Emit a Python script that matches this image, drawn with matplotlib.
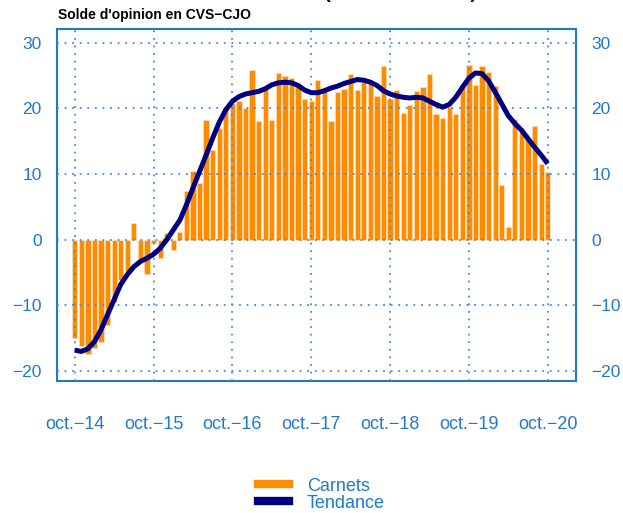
import numpy as np
import matplotlib
matplotlib.use('Agg')
from matplotlib import pyplot as plt
from matplotlib.lines import Line2D

# monthly data, oct. 2014 -> oct. 2020
carnets = [-15.0, -16.2, -17.4, -16.5, -15.5, -13.0, -9.5, -6.1, -4.8, 2.6, -2.9, -5.2,
           -0.5, -2.8, 1.0, -1.6, 1.2, 7.4, 10.5, 8.7, 18.2, 13.6, 17.0, 20.1,
           20.8, 21.1, 20.1, 25.8, 18.1, 23.3, 18.2, 25.4, 25.0, 24.7, 23.6, 21.4,
           21.2, 24.4, 23.0, 18.1, 22.5, 23.0, 25.2, 22.8, 24.0, 23.8, 21.9, 26.4,
           21.5, 22.8, 19.3, 20.5, 22.6, 23.2, 25.3, 19.2, 18.5, 20.2, 19.1, 23.6,
           26.6, 23.6, 26.5, 25.6, 23.4, 8.3, 2.0, 18.4, 17.0, 15.4, 17.3, 11.6,
           10.4]
tendance = [-16.8, -17.0, -16.6, -15.5, -13.7, -11.4, -9.1, -6.8, -5.3, -4.1, -3.3, -2.8,
            -2.2, -1.3, 0.0, 1.5, 3.0, 5.3, 7.9, 10.4, 12.9, 15.5, 17.9, 19.8,
            21.1, 21.8, 22.2, 22.4, 22.6, 23.0, 23.6, 23.9, 24.0, 23.9, 23.5, 22.8,
            22.4, 22.4, 22.7, 23.1, 23.4, 23.8, 24.1, 24.4, 24.3, 24.0, 23.5, 22.7,
            22.2, 21.9, 21.7, 21.6, 21.7, 21.6, 21.1, 20.6, 20.2, 20.6, 21.7, 23.2,
            24.6, 25.4, 25.3, 24.2, 22.5, 20.7, 18.9, 17.7, 16.7, 15.4, 14.1, 12.9,
            11.6]
xlabels = ['oct.\u221214', 'oct.\u221215', 'oct.\u221216', 'oct.\u221217',
           'oct.\u221218', 'oct.\u221219', 'oct.\u221220']
yticks = [-20, -10, 0, 10, 20, 30]

blue = '#1f78d1'
orange = '#ff8c00'
navy = '#000080'

plt.rcParams['font.family'] = ['Liberation Sans', 'DejaVu Sans']

fig = plt.figure(figsize=(6.23, 5.13), dpi=100)
ax = fig.add_axes([0.0915, 0.2573, 0.833, 0.6862])

x = np.arange(len(carnets))
ax.bar(x, carnets, width=0.8, color=orange, edgecolor='#ffe6c8', linewidth=0.4,
       zorder=1)
ax.plot(x, tendance, color=navy, linewidth=3.6, solid_capstyle='butt', zorder=4)

ax.set_xlim(-2.7, 76.3)
ax.set_ylim(-21.5, 32.1)
ax.set_xticks(x[::12])
ax.set_xticklabels(xlabels)
ax.set_yticks(yticks)

# dotted grid drawn over the bars, under the trend line
ax.set_axisbelow(False)
ax.grid(True, color='#3d8ee0', linestyle=(0, (1, 3.2)), linewidth=1.3)

for s in ax.spines.values():
    s.set_color(blue)
    s.set_linewidth(1.5)

ax.tick_params(axis='x', length=0, pad=25, labelsize=13, labelcolor=blue)
ax.tick_params(axis='y', length=0, pad=11, labelsize=12.5, labelcolor=blue,
               labelright=True, right=True)

fig.text(0.093, 0.962, "Solde d'opinion en CVS\u2212CJO", fontsize=10,
         fontweight='bold', ha='left', va='baseline')
fig.text(0.765, 1.003, 'Carnets de commandes (industrie totale)', fontsize=14,
         fontweight='bold', ha='right', va='baseline')

handles = [Line2D([0], [0], color=orange, linewidth=6),
           Line2D([0], [0], color=navy, linewidth=6)]
leg = fig.legend(handles, ['Carnets', 'Tendance'], loc='center',
                 bbox_to_anchor=(0.516, 0.036), frameon=False, fontsize=13,
                 handlelength=1.7, handletextpad=1.0, labelspacing=0.0,
                 borderpad=0)
for t in leg.get_texts():
    t.set_color(blue)

plt.savefig('out.png', dpi=100)
